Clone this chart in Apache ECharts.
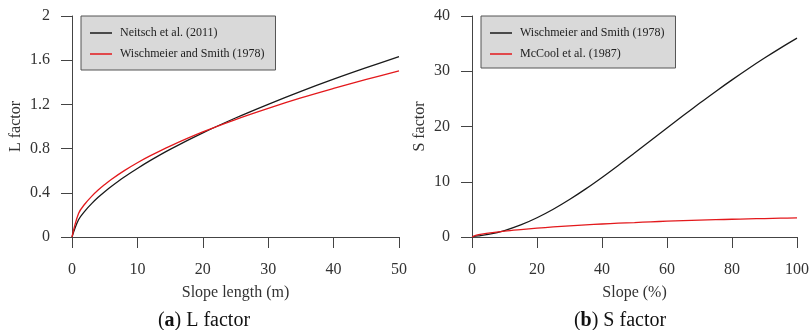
<!DOCTYPE html>
<html>
<head>
<meta charset="utf-8">
<script src="https://cdn.jsdelivr.net/npm/echarts@6/dist/echarts.min.js"></script>
<style>
  html, body { margin: 0; padding: 0; background: #fff; }
  #chart { width: 812px; height: 330px; }
</style>
</head>
<body>
<div id="chart"></div>
<script>
// (a) L factor against slope length (m)
const lengthX = [0, 1, 2, 3, 4, 5, 6, 8, 10, 12, 15, 20, 25, 30, 35, 40, 45, 50];
const lNeitsch = [0, 0.156, 0.237, 0.302, 0.359, 0.41, 0.457, 0.543, 0.62, 0.693, 0.793, 0.942, 1.077, 1.201, 1.318, 1.428, 1.532, 1.632];
const lWischmeier = [0, 0.213, 0.301, 0.368, 0.425, 0.475, 0.521, 0.601, 0.672, 0.736, 0.823, 0.951, 1.063, 1.164, 1.258, 1.344, 1.426, 1.503];

// (b) S factor against slope (%)
const slopeX = [0, 2, 5, 10, 15, 20, 25, 30, 35, 40, 45, 50, 55, 60, 65, 70, 75, 80, 85, 90, 95, 100];
const sWischmeier = [0.06, 0.19, 0.46, 1.17, 2.18, 3.48, 5.02, 6.78, 8.71, 10.78, 12.95, 15.19, 17.45, 19.72, 21.98, 24.19, 26.35, 28.44, 30.46, 32.39, 34.24, 36.0];
const sMcCool = [0, 0.41, 0.70, 1.07, 1.35, 1.60, 1.82, 2.01, 2.19, 2.35, 2.50, 2.62, 2.75, 2.86, 2.96, 3.05, 3.13, 3.21, 3.28, 3.34, 3.40, 3.45];

const legendLabels = {
  'L-N': 'Neitsch et al. (2011)',
  'L-WS': 'Wischmeier and Smith (1978)',
  'S-WS': 'Wischmeier and Smith (1978)',
  'S-MC': 'McCool et al. (1987)'
};

const FONT = 'Liberation Serif';
const AXIS = '#444';
const TEXT = '#333';
const BLACK = '#1a1a1a';
const RED = '#e3191c';

const pairs = (xs, ys) => xs.map((x, i) => [x, ys[i]]);

function xAxisFor(gridIndex, max, interval, name) {
  return {
    type: 'value', gridIndex, min: 0, max, interval,
    name, nameLocation: 'middle', nameGap: 48,
    nameTextStyle: { fontFamily: FONT, fontSize: 16, color: TEXT },
    axisLine: { show: true, onZero: false, lineStyle: { color: AXIS, width: 1 } },
    axisTick: { show: true, length: 11, lineStyle: { color: AXIS, width: 1 } },
    axisLabel: { margin: 25, fontFamily: FONT, fontSize: 16, color: TEXT },
    splitLine: { show: false }
  };
}
function yAxisFor(gridIndex, max, interval, name, gap) {
  return {
    type: 'value', gridIndex, min: 0, max, interval,
    name, nameLocation: 'middle', nameGap: gap,
    nameTextStyle: { fontFamily: FONT, fontSize: 16, color: TEXT },
    axisLine: { show: true, onZero: false, lineStyle: { color: AXIS, width: 1 } },
    axisTick: { show: true, length: 11, lineStyle: { color: AXIS, width: 1 } },
    axisLabel: { margin: 22, fontFamily: FONT, fontSize: 16, color: TEXT },
    splitLine: { show: false }
  };
}
function lineSeries(id, idx, data, color) {
  return {
    name: id, type: 'line', xAxisIndex: idx, yAxisIndex: idx,
    data, showSymbol: false, symbol: 'none',
    smooth: 0.35,
    lineStyle: { color, width: 1.3 }, itemStyle: { color },
    animation: false
  };
}
function legendFor(names, left, padBottom) {
  return {
    data: names, orient: 'vertical', left, top: 16,
    backgroundColor: '#d9d9d9', borderColor: '#555', borderWidth: 1,
    padding: [11, 11, padBottom, 9], itemGap: 9,
    icon: 'rect', itemWidth: 22, itemHeight: 1.5,
    selectedMode: false,
    formatter: n => legendLabels[n],
    textStyle: { fontFamily: FONT, fontSize: 12, color: '#222', padding: [0, 0, 0, 3] }
  };
}

const captionRich = {
  b: { fontFamily: FONT, fontSize: 20, fontWeight: 'normal', color: '#111' },
  bb: { fontFamily: FONT, fontSize: 20, fontWeight: 'bold', color: '#111' }
};

const chart = echarts.init(document.getElementById('chart'), null, { renderer: 'canvas' });
chart.setOption({
  animation: false,
  backgroundColor: '#fff',
  grid: [
    { left: 72, top: 16, width: 327, height: 221 },
    { left: 472, top: 16, width: 327, height: 221 }
  ],
  xAxis: [
    xAxisFor(0, 50, 10, 'Slope length (m)'),
    xAxisFor(1, 100, 20, 'Slope (%)')
  ],
  yAxis: [
    yAxisFor(0, 2, 0.4, 'L factor', 48),
    yAxisFor(1, 40, 10, 'S factor', 44)
  ],
  legend: [
    legendFor(['L-N', 'L-WS'], 81, 10),
    legendFor(['S-WS', 'S-MC'], 481, 8)
  ],
  title: [
    { text: '{b|(}{bb|a}{b|) L factor}', left: 199, top: 306, textAlign: 'center',
      textStyle: { fontWeight: 'normal', rich: captionRich } },
    { text: '{b|(}{bb|b}{b|) S factor}', left: 615, top: 306, textAlign: 'center',
      textStyle: { fontWeight: 'normal', rich: captionRich } }
  ],
  series: [
    lineSeries('L-N', 0, pairs(lengthX, lNeitsch), BLACK),
    lineSeries('L-WS', 0, pairs(lengthX, lWischmeier), RED),
    lineSeries('S-WS', 1, pairs(slopeX, sWischmeier), BLACK),
    lineSeries('S-MC', 1, pairs(slopeX, sMcCool), RED)
  ]
});
</script>
</body>
</html>
